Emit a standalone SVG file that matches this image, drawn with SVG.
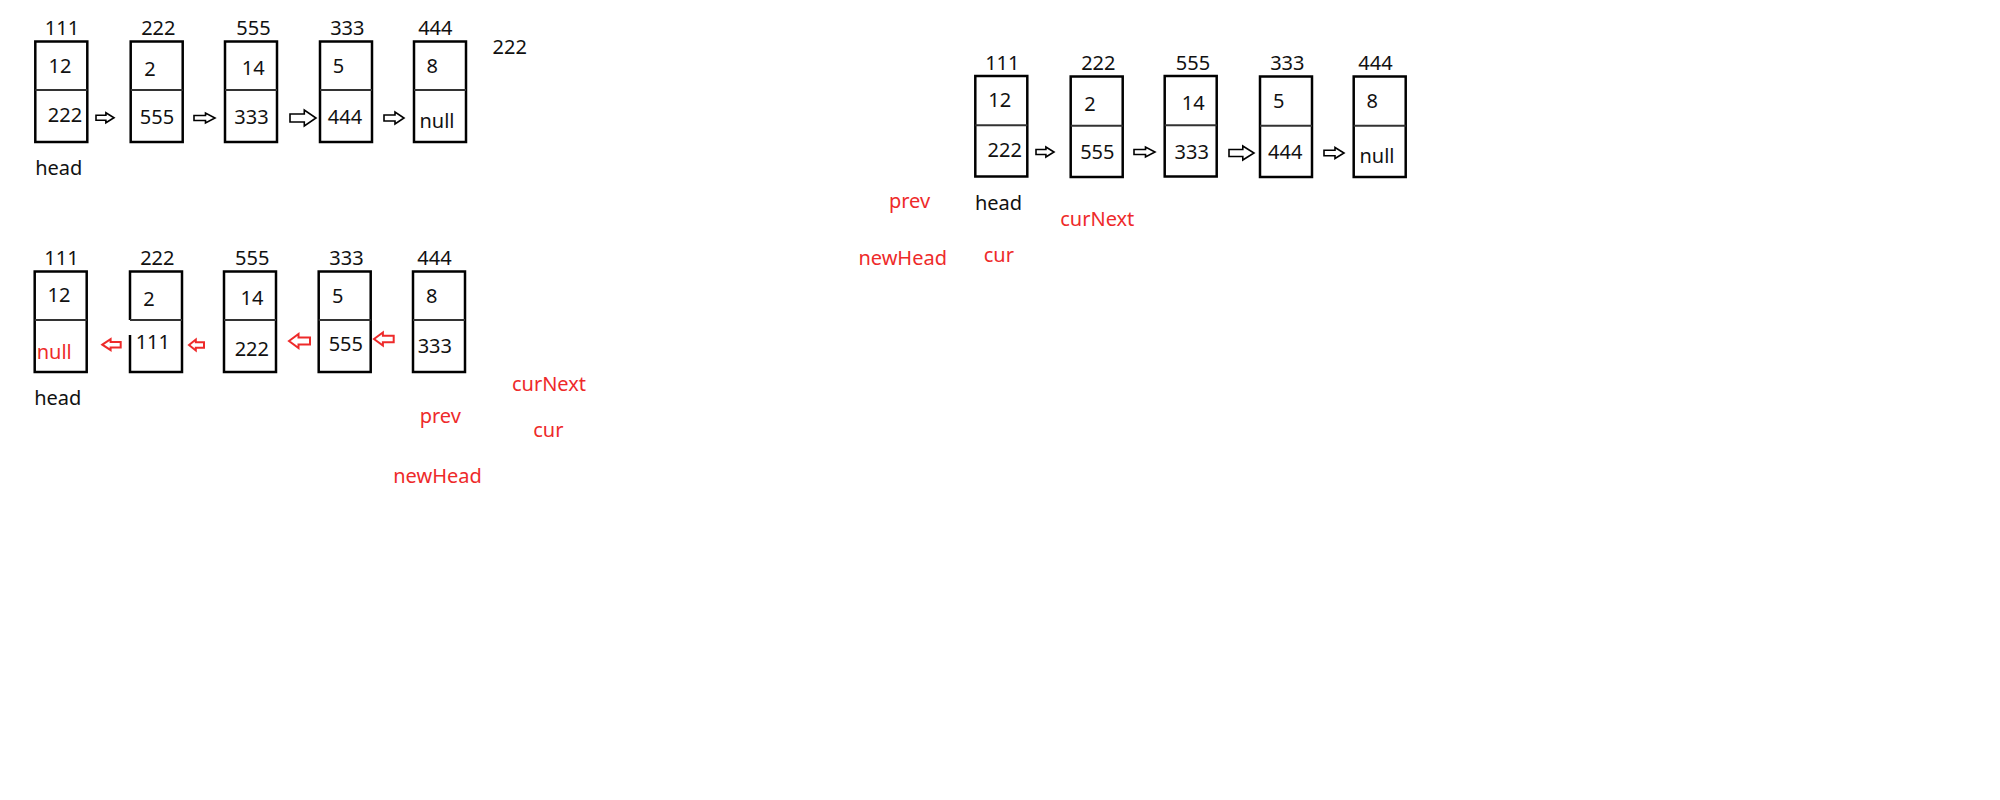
<svg xmlns="http://www.w3.org/2000/svg" width="2000" height="800" viewBox="0 0 2000 800">
<style>
  text { font-family: "Noto Sans", "Liberation Sans", sans-serif; font-size: 20px; fill: #111; text-anchor: middle; }
  .red { fill: #ee2a2a; }
  .box { fill: #fff; stroke: #000; stroke-width: 2.5; }
  .div { stroke: #333; stroke-width: 2; }
  .arr { fill: #fff; stroke: #000; stroke-width: 1.6; stroke-linejoin: miter; }
  .rarr { fill: #fff; stroke: #ee2a2a; stroke-width: 2; stroke-linejoin: miter; }
</style>
<rect width="2000" height="800" fill="#fff"/>

<!-- Top-left list -->
<g id="tl-node-111">
  <rect class="box" x="35.3" y="41.5" width="52" height="100.5"/>
  <line class="div" x1="35.3" y1="90" x2="87.3" y2="90"/>
  <text x="62" y="35">111</text>
  <text x="60" y="72.7">12</text>
  <text x="65" y="122">222</text>
</g>
<g id="tl-node-222">
  <rect class="box" x="130.7" y="41.5" width="52" height="100.5"/>
  <line class="div" x1="130.7" y1="90" x2="182.7" y2="90"/>
  <text x="158.3" y="35">222</text>
  <text x="150" y="76">2</text>
  <text x="157" y="124">555</text>
</g>
<g id="tl-node-555">
  <rect class="box" x="225" y="41.5" width="52" height="100.5"/>
  <line class="div" x1="225" y1="90" x2="277" y2="90"/>
  <text x="253.5" y="35">555</text>
  <text x="253.3" y="75">14</text>
  <text x="251.5" y="124">333</text>
</g>
<g id="tl-node-333">
  <rect class="box" x="320" y="41.5" width="52" height="100.5"/>
  <line class="div" x1="320" y1="90" x2="372" y2="90"/>
  <text x="347.3" y="35">333</text>
  <text x="338.5" y="73">5</text>
  <text x="345" y="124">444</text>
</g>
<g id="tl-node-444">
  <rect class="box" x="414" y="41.5" width="52" height="100.5"/>
  <line class="div" x1="414" y1="90" x2="466" y2="90"/>
  <text x="435.3" y="35">444</text>
  <text x="432.3" y="73">8</text>
  <text x="437" y="128">null</text>
</g>
<g id="tl-labels">
  <text x="509.7" y="54.3">222</text>
  <text x="58.8" y="175">head</text>
</g>

<!-- Bottom-left list (reversed) -->
<g id="bl-node-111">
  <rect class="box" x="34.7" y="271.5" width="52" height="100.5"/>
  <line class="div" x1="34.7" y1="320" x2="86.7" y2="320"/>
  <text x="61.5" y="265">111</text>
  <text x="59" y="302.3">12</text>
  <text class="red" x="54.2" y="359.3">null</text>
</g>
<g id="bl-node-222">
  <path class="box" d="M130,320 V271.5 H182 V372 H130 V335"/>
  <line class="div" x1="130" y1="320" x2="182" y2="320"/>
  <text x="157.3" y="265">222</text>
  <text x="149" y="305.7">2</text>
  <text x="152.8" y="349.3">111</text>
</g>
<g id="bl-node-555">
  <rect class="box" x="224" y="271.5" width="52" height="100.5"/>
  <line class="div" x1="224" y1="320" x2="276" y2="320"/>
  <text x="252.2" y="265">555</text>
  <text x="252" y="305">14</text>
  <text x="251.8" y="355.7">222</text>
</g>
<g id="bl-node-333">
  <rect class="box" x="318.7" y="271.5" width="52" height="100.5"/>
  <line class="div" x1="318.7" y1="320" x2="370.7" y2="320"/>
  <text x="346.5" y="265">333</text>
  <text x="337.8" y="303.3">5</text>
  <text x="345.8" y="350.7">555</text>
</g>
<g id="bl-node-444">
  <rect class="box" x="413" y="271.5" width="52" height="100.5"/>
  <line class="div" x1="413" y1="320" x2="465" y2="320"/>
  <text x="434.5" y="265">444</text>
  <text x="431.7" y="303.3">8</text>
  <text x="434.8" y="353.3">333</text>
</g>
<g id="bl-labels">
  <text x="57.8" y="405">head</text>
  <text class="red" x="549" y="391">curNext</text>
  <text class="red" x="440.3" y="423.3">prev</text>
  <text class="red" x="548.3" y="436.7">cur</text>
  <text class="red" x="437.5" y="482.7">newHead</text>
</g>

<!-- Right list -->
<g id="r-node-111">
  <rect class="box" x="975.3" y="76" width="52" height="100.5"/>
  <line class="div" x1="975.3" y1="125.3" x2="1027.3" y2="125.3"/>
  <text x="1002.3" y="70">111</text>
  <text x="999.8" y="107.3">12</text>
  <text x="1004.7" y="157.3">222</text>
</g>
<g id="r-node-222">
  <rect class="box" x="1070.7" y="76.5" width="52" height="100.5"/>
  <line class="div" x1="1070.7" y1="125.7" x2="1122.7" y2="125.7"/>
  <text x="1098.3" y="70">222</text>
  <text x="1090" y="110.7">2</text>
  <text x="1097.3" y="159">555</text>
</g>
<g id="r-node-555">
  <rect class="box" x="1164.7" y="76" width="52" height="100.5"/>
  <line class="div" x1="1164.7" y1="125.3" x2="1216.7" y2="125.3"/>
  <text x="1193" y="70">555</text>
  <text x="1193.2" y="110">14</text>
  <text x="1191.7" y="159">333</text>
</g>
<g id="r-node-333">
  <rect class="box" x="1260" y="76.5" width="52" height="100.5"/>
  <line class="div" x1="1260" y1="125.7" x2="1312" y2="125.7"/>
  <text x="1287.3" y="70">333</text>
  <text x="1278.7" y="108.3">5</text>
  <text x="1285.2" y="159">444</text>
</g>
<g id="r-node-444">
  <rect class="box" x="1353.7" y="76.5" width="52" height="100.5"/>
  <line class="div" x1="1353.7" y1="125.7" x2="1405.7" y2="125.7"/>
  <text x="1375.5" y="70">444</text>
  <text x="1372.3" y="107.7">8</text>
  <text x="1377" y="163.3">null</text>
</g>
<g id="r-labels">
  <text x="998.5" y="210">head</text>
  <text class="red" x="909.5" y="207.7">prev</text>
  <text class="red" x="1097.3" y="225.7">curNext</text>
  <text class="red" x="902.7" y="265">newHead</text>
  <text class="red" x="998.8" y="261.7">cur</text>
</g>

<!-- Connectors -->
<g id="connectors">
  <polygon class="arr" points="96,115.2 105.9,115.2 105.9,112.7 114,117.7 105.9,122.7 105.9,120.2 96,120.2"/>
  <polygon class="arr" points="194,115.5 205.5,115.5 205.5,113 215,118 205.5,123 205.5,120.5 194,120.5"/>
  <polygon class="arr" points="290,114 304.3,114 304.3,110 316,118 304.3,126 304.3,122 290,122"/>
  <polygon class="arr" points="384,115 395,115 395,112 404,118 395,124 395,121 384,121"/>

  <polygon class="rarr" points="102.3,344.7 110.6,339.2 110.6,342 120.7,342 120.7,347.4 110.6,347.4 110.6,350.2"/>
  <polygon class="rarr" points="189,345 195.8,339.5 195.8,342.2 204,342.2 204,347.8 195.8,347.8 195.8,350.5"/>
  <polygon class="rarr" points="289,341 298.5,334 298.5,337.5 310,337.5 310,344.5 298.5,344.5 298.5,348"/>
  <polygon class="rarr" points="374,339 382.9,332.5 382.9,335.8 393.7,335.8 393.7,342.2 382.9,342.2 382.9,345.5"/>

  <polygon class="arr" points="1036,149.5 1045.9,149.5 1045.9,147 1054,152 1045.9,157 1045.9,154.5 1036,154.5"/>
  <polygon class="arr" points="1134,149.5 1145.5,149.5 1145.5,147 1155,152 1145.5,157 1145.5,154.5 1134,154.5"/>
  <polygon class="arr" points="1229,149.5 1242.8,149.5 1242.8,146 1254,153 1242.8,160 1242.8,156.5 1229,156.5"/>
  <polygon class="arr" points="1324,150.2 1335,150.2 1335,147.5 1344,153 1335,158.5 1335,155.8 1324,155.8"/>
</g>
</svg>
